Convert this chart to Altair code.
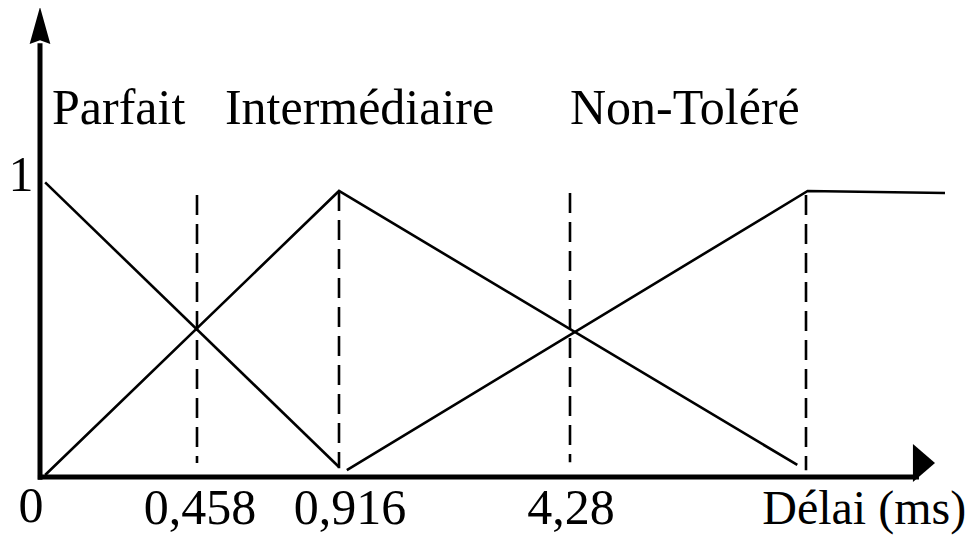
import altair as alt
import pandas as pd

# ---- data (x: délai on a schematic axis, y: degré d'appartenance)
parfait_x = [0.015, 0.916]
parfait_y = [1.03, 0.035]
inter_x = [0.015, 0.916, 7.52]
inter_y = [0.007, 1.0, 0.042]
nontol_x = [1.03, 7.66, 9.0]
nontol_y = [0.024, 1.0, 0.993]

dash_x = [0.458, 0.916, 4.28, 7.644]
dash_top = [0.986, 1.0, 0.993, 0.986]
dash_bottom = [0.049, 0.031, 0.052, 0.024]

tick_values = [0, 0.458, 0.916, 4.28]
tick_labels = ["0", "0,458", "0,916", "4,28"]
tick_dx = [-9, 3, 11, 1]
tick_y = [-0.157, -0.164, -0.164, -0.164]

term_names = ["Parfait", "Intermédiaire", "Non-Toléré"]
term_x = [0.035, 0.548, 4.28]
term_y = 1.234

axis_title = "Délai (ms)"
axis_title_x = 7.02
axis_title_y = -0.164
y_label = "1"

# schematic (piecewise-linear) axis: breakpoints placed as in the figure
X_DOMAIN = [0, 0.458, 0.916, 4.28, 7.644, 9.0]
X_RANGE = [32, 189, 331, 562, 798, 937]
Y_DOMAIN = [0, 1]
Y_RANGE = [469, 183]

# axis decoration extents (in data units)
X_AXIS_END = 8.746
Y_AXIS_END = 1.517
UP_ARROW_Y = 1.579
RIGHT_ARROW_X = 8.795
RIGHT_ARROW_Y = 0.049

FONT = "Liberation Serif"
FS = 50

xs = alt.Scale(domain=X_DOMAIN, range=X_RANGE, clamp=False, nice=False, zero=False)
ys = alt.Scale(domain=Y_DOMAIN, range=Y_RANGE, clamp=False, nice=False, zero=False)

rows = []
for name, xv, yv in [("Parfait", parfait_x, parfait_y),
                     ("Intermédiaire", inter_x, inter_y),
                     ("Non-Toléré", nontol_x, nontol_y)]:
    for i, (a, b) in enumerate(zip(xv, yv)):
        rows.append({"serie": name, "ordre": i, "x": a, "y": b})
lines_df = pd.DataFrame(rows)

lines = alt.Chart(lines_df).mark_line(color="black", strokeWidth=2.6).encode(
    x=alt.X("x:Q", scale=xs, axis=None),
    y=alt.Y("y:Q", scale=ys, axis=None),
    detail="serie:N",
    order="ordre:Q",
)

dash_df = pd.DataFrame({"x": dash_x, "top": dash_top, "bottom": dash_bottom})
dashes = alt.Chart(dash_df).mark_rule(color="black", strokeWidth=2.6, strokeDash=[20, 9]).encode(
    x=alt.X("x:Q", scale=xs, axis=None),
    y=alt.Y("top:Q", scale=ys, axis=None),
    y2="bottom:Q",
)

xaxis_df = pd.DataFrame({"x": [-0.006], "x2": [X_AXIS_END], "y": [0.0]})
xaxis = alt.Chart(xaxis_df).mark_rule(color="black", strokeWidth=5).encode(
    x=alt.X("x:Q", scale=xs, axis=None), x2="x2:Q",
    y=alt.Y("y:Q", scale=ys, axis=None),
)
yaxis_df = pd.DataFrame({"x": [0.0], "y": [-0.01], "y2": [Y_AXIS_END]})
yaxis = alt.Chart(yaxis_df).mark_rule(color="black", strokeWidth=5).encode(
    x=alt.X("x:Q", scale=xs, axis=None),
    y=alt.Y("y:Q", scale=ys, axis=None), y2="y2:Q",
)

up_arrow = alt.Chart(pd.DataFrame({"x": [0.0], "y": [UP_ARROW_Y]})).mark_point(
    shape="M0,-1L0.56,1L0,0.8L-0.56,1Z", size=1369, filled=True,
    color="black", opacity=1, strokeWidth=0,
).encode(x=alt.X("x:Q", scale=xs, axis=None), y=alt.Y("y:Q", scale=ys, axis=None))

right_arrow = alt.Chart(pd.DataFrame({"x": [RIGHT_ARROW_X], "y": [RIGHT_ARROW_Y]})).mark_point(
    shape="M-0.58,-1L0.58,0L-0.58,1Z", size=1444, filled=True,
    color="black", opacity=1, strokeWidth=0,
).encode(x=alt.X("x:Q", scale=xs, axis=None), y=alt.Y("y:Q", scale=ys, axis=None))

terms = alt.Chart(pd.DataFrame({"x": term_x, "y": [term_y] * 3, "t": term_names})).mark_text(
    align="left", baseline="alphabetic", font=FONT, fontSize=FS, color="black",
).encode(x=alt.X("x:Q", scale=xs, axis=None), y=alt.Y("y:Q", scale=ys, axis=None), text="t:N")

tick_layers = []
for v, lab, dx, ty in zip(tick_values, tick_labels, tick_dx, tick_y):
    tick_layers.append(
        alt.Chart(pd.DataFrame({"x": [v], "y": [ty], "t": [lab]})).mark_text(
            align="center", baseline="alphabetic", font=FONT, fontSize=FS, color="black", dx=dx,
        ).encode(x=alt.X("x:Q", scale=xs, axis=None), y=alt.Y("y:Q", scale=ys, axis=None), text="t:N")
    )

title_txt = alt.Chart(pd.DataFrame({"x": [axis_title_x], "y": [axis_title_y], "t": [axis_title]})).mark_text(
    align="left", baseline="alphabetic", font=FONT, fontSize=48, color="black",
).encode(x=alt.X("x:Q", scale=xs, axis=None), y=alt.Y("y:Q", scale=ys, axis=None), text="t:N")

one_txt = alt.Chart(pd.DataFrame({"x": [0.0], "y": [1.0], "t": [y_label]})).mark_text(
    align="center", baseline="alphabetic", font=FONT, fontSize=FS, color="black", dx=-19,
).encode(x=alt.X("x:Q", scale=xs, axis=None), y=alt.Y("y:Q", scale=ys, axis=None), text="t:N")

chart = alt.layer(
    lines, dashes, xaxis, yaxis, up_arrow, right_arrow, terms, *tick_layers, title_txt, one_txt
).properties(
    width=957, height=527, padding=0, background="white",
    autosize=alt.AutoSizeParams(type="none"),
).configure_view(stroke=None)

chart.save("out.html", embed_options={"renderer": "svg", "actions": False})
